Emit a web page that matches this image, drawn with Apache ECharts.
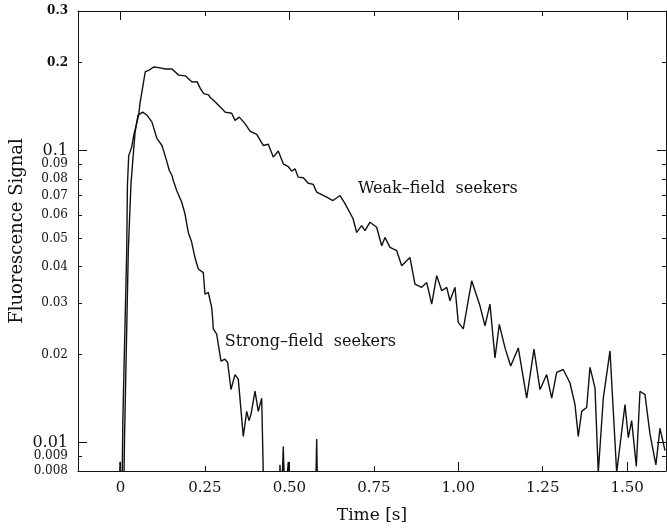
<!DOCTYPE html>
<html>
<head>
<meta charset="utf-8">
<script src="https://cdn.jsdelivr.net/npm/echarts@6/dist/echarts.min.js"></script>
<style>html,body{margin:0;padding:0;background:#fff}#c{width:667px;height:529px}</style>
</head>
<body>
<div id="c"></div>
<script>
// ---- data ----
const wfsTime = [0.004,0.007,0.0184,0.0205,0.0243,0.0332,0.0391,0.0539,0.0577,0.0734,0.0835,0.0983,0.1131,0.1326,0.1525,0.1723,0.1918,0.2117,0.2265,0.2362,0.2463,0.2611,0.265,0.2806,0.2848,0.3005,0.3093,0.3292,0.339,0.3517,0.3686,0.3834,0.4032,0.4227,0.4375,0.4523,0.4671,0.4819,0.4967,0.5068,0.5166,0.5263,0.5411,0.5559,0.5708,0.5808,0.6104,0.6291,0.6498,0.6647,0.6883,0.6992,0.714,0.7238,0.7386,0.7584,0.7732,0.783,0.7978,0.8177,0.8324,0.8472,0.857,0.8718,0.8916,0.9065,0.9213,0.9361,0.9509,0.9657,0.9754,0.9902,1.0,1.0148,1.0397,1.0642,1.079,1.0938,1.1086,1.1214,1.1383,1.1551,1.1776,1.2025,1.2241,1.2419,1.2617,1.2765,1.2913,1.3108,1.3307,1.3455,1.3552,1.3653,1.3801,1.3899,1.4047,1.4144,1.4293,1.4491,1.4689,1.4935,1.5033,1.5133,1.527,1.5379,1.5527,1.5675,1.585,1.5971,1.6119];
const wfsSignal = [0.006,0.012,0.0454,0.0759,0.096,0.1026,0.1126,0.132,0.145,0.186,0.188,0.193,0.192,0.190,0.190,0.181,0.180,0.1715,0.172,0.163,0.1565,0.155,0.152,0.1465,0.1446,0.139,0.1353,0.134,0.1267,0.130,0.1235,0.1165,0.1135,0.104,0.105,0.0949,0.0995,0.090,0.0881,0.0849,0.0865,0.081,0.0806,0.0772,0.0765,0.072,0.0692,0.0674,0.0701,0.0658,0.0585,0.0524,0.0553,0.0532,0.0568,0.0546,0.0472,0.0504,0.0466,0.0454,0.0403,0.0419,0.043,0.0349,0.034,0.0353,0.0298,0.0373,0.0331,0.034,0.0306,0.034,0.0258,0.0245,0.0358,0.0294,0.0251,0.0298,0.0195,0.0254,0.0211,0.0183,0.0211,0.0142,0.0209,0.0152,0.0171,0.0142,0.0174,0.0178,0.016,0.0135,0.0105,0.0128,0.0132,0.0181,0.0154,0.0079,0.0142,0.0206,0.0079,0.0135,0.0104,0.0119,0.0083,0.015,0.0146,0.0107,0.0084,0.0112,0.0094];

const sfsTime = [-0.004,-0.0015,0.001,0.009,0.012,0.0231,0.031,0.043,0.0518,0.0657,0.0784,0.0932,0.108,0.1229,0.1377,0.1445,0.1525,0.1563,0.1664,0.1812,0.1909,0.2007,0.2108,0.2205,0.2303,0.2451,0.2501,0.2599,0.27,0.2729,0.2747,0.2848,0.2895,0.2975,0.3093,0.3173,0.3271,0.339,0.3487,0.3635,0.3736,0.3804,0.3863,0.3982,0.4079,0.418,0.4248,0.468,0.4722,0.476,0.4819,0.487,0.4967,0.500,0.577,0.5808,0.584,0.62];
const sfsSignal = [0.006,0.0086,0.006,0.006,0.0105,0.0454,0.077,0.115,0.132,0.1353,0.132,0.125,0.1097,0.104,0.0912,0.0854,0.0821,0.0789,0.0729,0.0665,0.0607,0.0524,0.0485,0.043,0.0393,0.0382,0.0322,0.0327,0.029,0.0265,0.0245,0.0235,0.0238,0.019,0.0193,0.0188,0.0152,0.0171,0.0165,0.0105,0.0128,0.0119,0.0125,0.015,0.0128,0.0142,0.006,0.006,0.0084,0.006,0.0097,0.006,0.0086,0.006,0.006,0.0103,0.006,0.006];

const xTickValues = [0,0.25,0.5,0.75,1.0,1.25,1.5];
const xTickLabels = ['0','0.25','0.50','0.75','1.00','1.25','1.50'];
const xMajorTicks = [0,0.5,1.0,1.5];
const xMinorTicks = [0.25,0.75,1.25];

const yTickValues = [0.3,0.2,0.1,0.09,0.08,0.07,0.06,0.05,0.04,0.03,0.02,0.01,0.009,0.008];
const yTickLabels = ['0.3','0.2','0.1','0.09','0.08','0.07','0.06','0.05','0.04','0.03','0.02','0.01','0.009','0.008'];
const yMajorTicks = [0.1,0.01];
const yBigLabels = ['0.1','0.01'];
const yBoldLabels = ['0.3','0.2'];

const xMin = -0.1258, xMax = 1.6149;
const yMin = 0.008, yMax = 0.3;

const titleX = 'Time [s]';
const titleY = 'Fluorescence Signal';
const labelWeak = 'Weak\u2013field  seekers';
const labelStrong = 'Strong\u2013field  seekers';
const weakAnchor = [0.703, 0.0741];
const strongAnchor = [0.309, 0.0221];

// ---- build ----
const zip = (a, b) => a.map((v, i) => [v, b[i]]);
const L = v => Math.log10(v);
const yMinorTicks = yTickValues.filter(v => yMajorTicks.indexOf(v) < 0);
const FONT = 'DejaVu Serif';
const INK = '#111';

function yFmt(v) {
  let i = yTickValues.findIndex(t => Math.abs(L(t) - v) < 1e-6);
  if (i < 0) return '';
  const s = yTickLabels[i];
  if (yBigLabels.indexOf(s) >= 0) return '{big|' + s + '}';
  if (yBoldLabels.indexOf(s) >= 0) return '{bold|' + s + '}';
  return '{small|' + s + '}';
}
function xFmt(v) {
  let i = xTickValues.findIndex(t => Math.abs(t - v) < 1e-6);
  return i < 0 ? '' : xTickLabels[i];
}

const tickY = (vals, len, pos, withLabels, line) => ({
  type: 'value', position: pos, min: L(yMin), max: L(yMax),
  axisLine: { show: !!line, onZero: false, lineStyle: { color: INK, width: 1 } },
  axisTick: { show: true, inside: true, length: len, customValues: vals.map(L), lineStyle: { color: INK, width: 1 } },
  axisLabel: withLabels ? {
    show: true, customValues: yTickValues.map(L), formatter: yFmt, margin: 10,
    rich: {
      big: { fontFamily: FONT, fontSize: 16, color: INK },
      small: { fontFamily: FONT, fontSize: 12, color: INK },
      bold: { fontFamily: FONT, fontSize: 12, color: INK, fontWeight: 'bold' }
    }
  } : { show: false },
  splitLine: { show: false }
});
const tickX = (vals, len, pos, withLabels, line) => ({
  type: 'value', position: pos, min: xMin, max: xMax,
  axisLine: { show: !!line, onZero: false, lineStyle: { color: INK, width: 1 } },
  axisTick: { show: true, inside: true, length: len, customValues: vals, lineStyle: { color: INK, width: 1 } },
  axisLabel: withLabels ? {
    show: true, customValues: xTickValues, formatter: xFmt, margin: 10,
    fontFamily: FONT, fontSize: 15, color: INK
  } : { show: false },
  splitLine: { show: false }
});

const xMain = tickX(xMinorTicks, 5, 'bottom', true, true);
xMain.name = titleX;
xMain.nameLocation = 'middle';
xMain.nameGap = 36;
xMain.nameTextStyle = { fontFamily: FONT, fontSize: 17, color: INK };

const option = {
  backgroundColor: '#fff',
  animation: false,
  grid: { left: 78, right: 1, top: 11, bottom: 58, outerBoundsMode: 'none' },
  xAxis: [
    xMain,
    tickX(xMajorTicks, 9, 'bottom', false, false),
    tickX(xMinorTicks, 5, 'top', false, true),
    tickX(xMajorTicks, 9, 'top', false, false)
  ],
  yAxis: [
    { type: 'log', logBase: 10, min: yMin, max: yMax, position: 'left',
      axisLine: { show: true, onZero: false, lineStyle: { color: INK, width: 1 } },
      axisTick: { show: false }, axisLabel: { show: false }, splitLine: { show: false } },
    tickY(yMinorTicks, 4, 'left', true, false),
    tickY(yMajorTicks, 9, 'left', false, false),
    tickY(yMinorTicks, 4, 'right', false, true),
    tickY(yMajorTicks, 9, 'right', false, false)
  ],
  series: [
    { name: 'Weak-field seekers', type: 'line', xAxisIndex: 0, yAxisIndex: 0,
      data: zip(wfsTime, wfsSignal), showSymbol: false, clip: true,
      lineStyle: { color: INK, width: 1.4 },
      markPoint: { symbol: 'circle', symbolSize: 0, silent: true,
        label: { show: true, position: 'right', distance: 0, formatter: labelWeak, fontFamily: FONT, fontSize: 16, color: INK },
        data: [{ coord: weakAnchor }] } },
    { name: 'Strong-field seekers', type: 'line', xAxisIndex: 0, yAxisIndex: 0,
      data: zip(sfsTime, sfsSignal), showSymbol: false, clip: true,
      lineStyle: { color: INK, width: 1.4 },
      markPoint: { symbol: 'circle', symbolSize: 0, silent: true,
        label: { show: true, position: 'right', distance: 0, formatter: labelStrong, fontFamily: FONT, fontSize: 16, color: INK },
        data: [{ coord: strongAnchor }] } }
  ],
  graphic: [
    { type: 'text', x: 17, y: 231, rotation: Math.PI / 2,
      style: { text: titleY, fontFamily: FONT, fontSize: 18, fill: INK, align: 'center', verticalAlign: 'middle' } }
  ]
};

const chart = echarts.init(document.getElementById('c'), null, { renderer: 'canvas' });
chart.setOption(option);
</script>
</body>
</html>
